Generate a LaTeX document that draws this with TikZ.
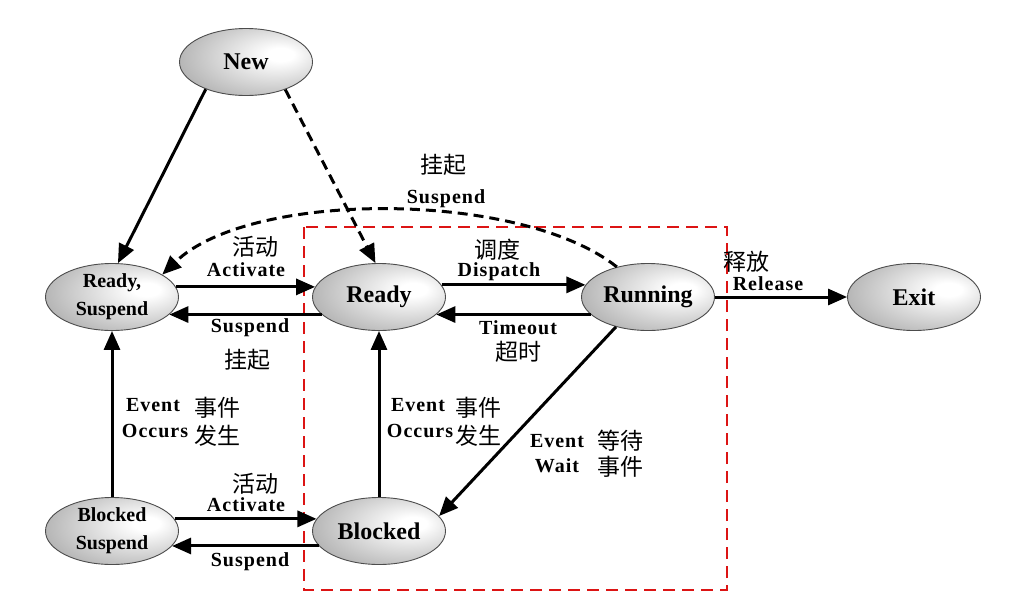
\documentclass[tikz,border=0pt]{standalone}
\usepackage{fontspec}
\setmainfont{Liberation Serif}
\newfontfamily\labfont[LetterSpace=5]{Liberation Serif}
\newfontfamily\cjk{Noto Sans CJK SC}
\usetikzlibrary{shapes.geometric,arrows.meta}
\definecolor{ballin}{gray}{1}
\definecolor{ballmid}{gray}{0.70}
\definecolor{ballout}{gray}{0.58}
\definecolor{boxred}{RGB}{220,20,20}
\pgfdeclareradialshading{ellball}{\pgfpoint{14bp}{6bp}}{color(0bp)=(ballin); color(5bp)=(ballin); color(34bp)=(ballmid); color(50bp)=(ballout); color(70bp)=(ballout)}
\begin{document}
\begin{tikzpicture}[x=1pt,y=-1pt,
  state/.style={ellipse, draw=black!70, line width=0.9pt, shade, shading=ellball,
    minimum width=133pt, minimum height=67pt, inner sep=0pt, align=center,
    font=\bfseries\fontsize{24}{26}\selectfont},
  twoline/.style={font=\bfseries\fontsize{20}{28}\selectfont},
  arr/.style={line width=3pt, -{Triangle[length=19pt,width=16pt]}},
  darr/.style={arr, dash pattern=on 10pt off 6pt},
  lab/.style={font=\labfont\bfseries\fontsize{20}{22}\selectfont, inner sep=0pt},
  zh/.style={font=\cjk\fontsize{23}{25}\selectfont, inner sep=0pt}]
\useasboundingbox (0,0) rectangle (1024,603);

% red dashed frame
\draw[boxred, line width=2pt, dash pattern=on 12pt off 7pt] (304,227) rectangle (727,590);

% states
\node[state] (new) at (246,62) {New};
\node[state, twoline] (rs) at (112,297) {Ready,\\Suspend};
\node[state] (ready) at (379,297) {Ready};
\node[state] (running) at (648,297) {Running};
\node[state] (exit) at (914,297) {Exit};
\node[state, twoline] (bs) at (112,531) {Blocked\\Suspend};
\node[state] (blocked) at (379,531) {Blocked};

% connectors
\draw[arr] (new.214) -- (rs.80);
\draw[darr] (new.325) -- (ready.96);
\draw[arr] (rs.9) -- (ready.171);
\draw[arr] (ready.197) -- (rs.-17);
\draw[arr] (ready.11) -- (running.169);
\draw[arr] (running.197) -- (ready.-17);
\draw[arr] (running.east) -- (exit.west);
\draw[darr] (running.136) .. controls (520,190) and (250,190) .. (rs.24);
\draw[arr] (bs.north) -- (rs.south);
\draw[arr] (blocked.north) -- (ready.south);
\draw[arr] (running.223) -- (blocked.14);
\draw[arr] (bs.11) -- (blocked.169);
\draw[arr] (blocked.194) -- (bs.-14);

% labels
\node[zh] (l1) at (443,165) {挂起};
\node[lab] (l2) at (446,199) {Suspend};
\node[zh] (l3) at (255,247) {活动};
\node[lab] (l4) at (246,270) {Activate};
\node[lab] (l5) at (250,328) {Suspend};
\node[zh] (l6) at (247,360) {挂起};
\node[zh] (l7) at (497,250) {调度};
\node[lab] (l8) at (499,272) {Dispatch};
\node[lab] (l9) at (518,328) {Timeout};
\node[zh] (l10) at (518,352) {超时};
\node[zh] (l11) at (746,262) {释放};
\node[lab] (l12) at (768,284) {Release};
\node[lab] (l13) at (153,405) {Event};
\node[lab] (l14) at (155,431) {Occurs};
\node[zh] (l15) at (217,408) {事件};
\node[zh] (l16) at (217,436) {发生};
\node[lab] (l17) at (418,405) {Event};
\node[lab] (l18) at (420,431) {Occurs};
\node[zh] (l19) at (478,408) {事件};
\node[zh] (l20) at (478,436) {发生};
\node[lab] (l21) at (557,441) {Event};
\node[lab] (l22) at (557,466) {Wait};
\node[zh] (l23) at (620,441) {等待};
\node[zh] (l24) at (620,467) {事件};
\node[zh] (l25) at (255,484) {活动};
\node[lab] (l26) at (246,505) {Activate};
\node[lab] (l27) at (250,562) {Suspend};
\end{tikzpicture}
\end{document}
